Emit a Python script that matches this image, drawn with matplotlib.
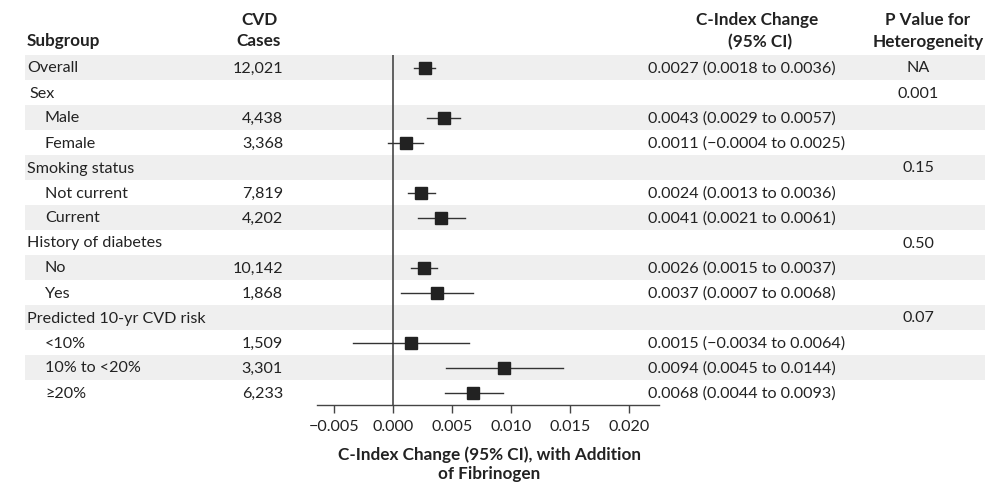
import matplotlib
matplotlib.use("Agg")
import matplotlib.pyplot as plt
from matplotlib.patches import Rectangle

plt.rcParams['font.family'] = ['Lato', 'DejaVu Sans']

# ---- data ----
labels = ["Overall", "Sex", "Male", "Female", "Smoking status", "Not current", "Current",
          "History of diabetes", "No", "Yes", "Predicted 10-yr CVD risk", "<10%",
          "10% to <20%", "\u226520%"]
indent = [0, 0, 1, 1, 0, 1, 1, 0, 1, 1, 0, 1, 1, 1]
cases = ["12,021", "", "4,438", "3,368", "", "7,819", "4,202", "", "10,142", "1,868", "",
         "1,509", "3,301", "6,233"]
est = [0.0027, None, 0.0043, 0.0011, None, 0.0024, 0.0041, None, 0.0026, 0.0037, None,
       0.0015, 0.0094, 0.0068]
lo = [0.0018, None, 0.0029, -0.0004, None, 0.0013, 0.0021, None, 0.0015, 0.0007, None,
      -0.0034, 0.0045, 0.0044]
hi = [0.0036, None, 0.0057, 0.0025, None, 0.0036, 0.0061, None, 0.0037, 0.0068, None,
      0.0064, 0.0144, 0.0093]
ci_text = ["0.0027 (0.0018 to 0.0036)", "", "0.0043 (0.0029 to 0.0057)",
           "0.0011 (\u22120.0004 to 0.0025)", "", "0.0024 (0.0013 to 0.0036)",
           "0.0041 (0.0021 to 0.0061)", "", "0.0026 (0.0015 to 0.0037)",
           "0.0037 (0.0007 to 0.0068)", "", "0.0015 (\u22120.0034 to 0.0064)",
           "0.0094 (0.0045 to 0.0144)", "0.0068 (0.0044 to 0.0093)"]
pvals = ["NA", "0.001", "", "", "0.15", "", "", "0.50", "", "", "0.07", "", "", ""]
xticks = [-0.005, 0.000, 0.005, 0.010, 0.015, 0.020]
xtick_labels = ["\u22120.005", "0.000", "0.005", "0.010", "0.015", "0.020"]

W, H = 990, 482
fig = plt.figure(figsize=(W / 100, H / 100), dpi=100)

# background axes in pixel coords
bg = fig.add_axes([0, 0, 1, 1])
bg.set_xlim(0, W)
bg.set_ylim(H, 0)
bg.axis("off")

top = 55
rh = 25
fs = 11.6
fsb = 12.3
txtc = "#222222"
for i, lab in enumerate(labels):
    yc = top + rh * (i + 0.5) + 1
    if i % 2 == 0:
        bg.add_patch(Rectangle((25, top + rh * i), W - 30, rh, color="#efefef", lw=0, zorder=0))
    bg.text(27 + 18 * indent[i] + (2 if i in (1,) else 0), yc, lab, ha="left", va="center",
            fontsize=fs, color=txtc)
    bg.text(283, yc, cases[i], ha="right", va="center", fontsize=fs, color=txtc)
    bg.text(648, yc, ci_text[i], ha="left", va="center", fontsize=fs, color=txtc)
    bg.text(918, yc, pvals[i], ha="center", va="center", fontsize=fs, color=txtc)

hb = dict(fontsize=fsb, fontweight="bold", color=txtc, va="center")
bg.text(27, 41, "Subgroup", ha="left", **hb)
bg.text(259, 20, "CVD", ha="center", **hb)
bg.text(259, 41, "Cases", ha="center", **hb)
bg.text(757, 20, "C-Index Change", ha="center", **hb)
bg.text(760, 42, "(95% CI)", ha="center", **hb)
bg.text(928, 20, "P Value for", ha="center", **hb)
bg.text(928, 42, "Heterogeneity", ha="center", **hb)
bg.text(489, 455, "C-Index Change (95% CI), with Addition", ha="center", **hb)
bg.text(489, 474, "of Fibrinogen", ha="center", **hb)

# forest axes
x0, x1 = 317, 659
y0, y1 = top, top + rh * len(labels)
ax = fig.add_axes([x0 / W, 1 - y1 / H, (x1 - x0) / W, (y1 - y0) / H])
ax.patch.set_alpha(0)
ax.set_xlim(-0.00644, 0.02254)
ax.set_ylim(len(labels) - 0.5, -0.5)
for s in ["top", "right", "left"]:
    ax.spines[s].set_visible(False)
ax.spines["bottom"].set_color("#444444")
ax.spines["bottom"].set_linewidth(1.0)
ax.set_yticks([])
ax.set_xticks(xticks)
ax.set_xticklabels(xtick_labels, fontsize=fs, color=txtc)
ax.tick_params(axis="x", direction="out", length=6, width=1, color="#444444", pad=5)
ax.axvline(0, color="#555555", lw=1.3, zorder=1)

for i in range(len(labels)):
    if est[i] is None:
        continue
    ax.plot([lo[i], hi[i]], [i, i], color="#333333", lw=1.0, zorder=2)
    ax.plot([est[i]], [i], marker="s", ms=9, color="#222222", zorder=3)

fig.savefig("out.png", dpi=100)
